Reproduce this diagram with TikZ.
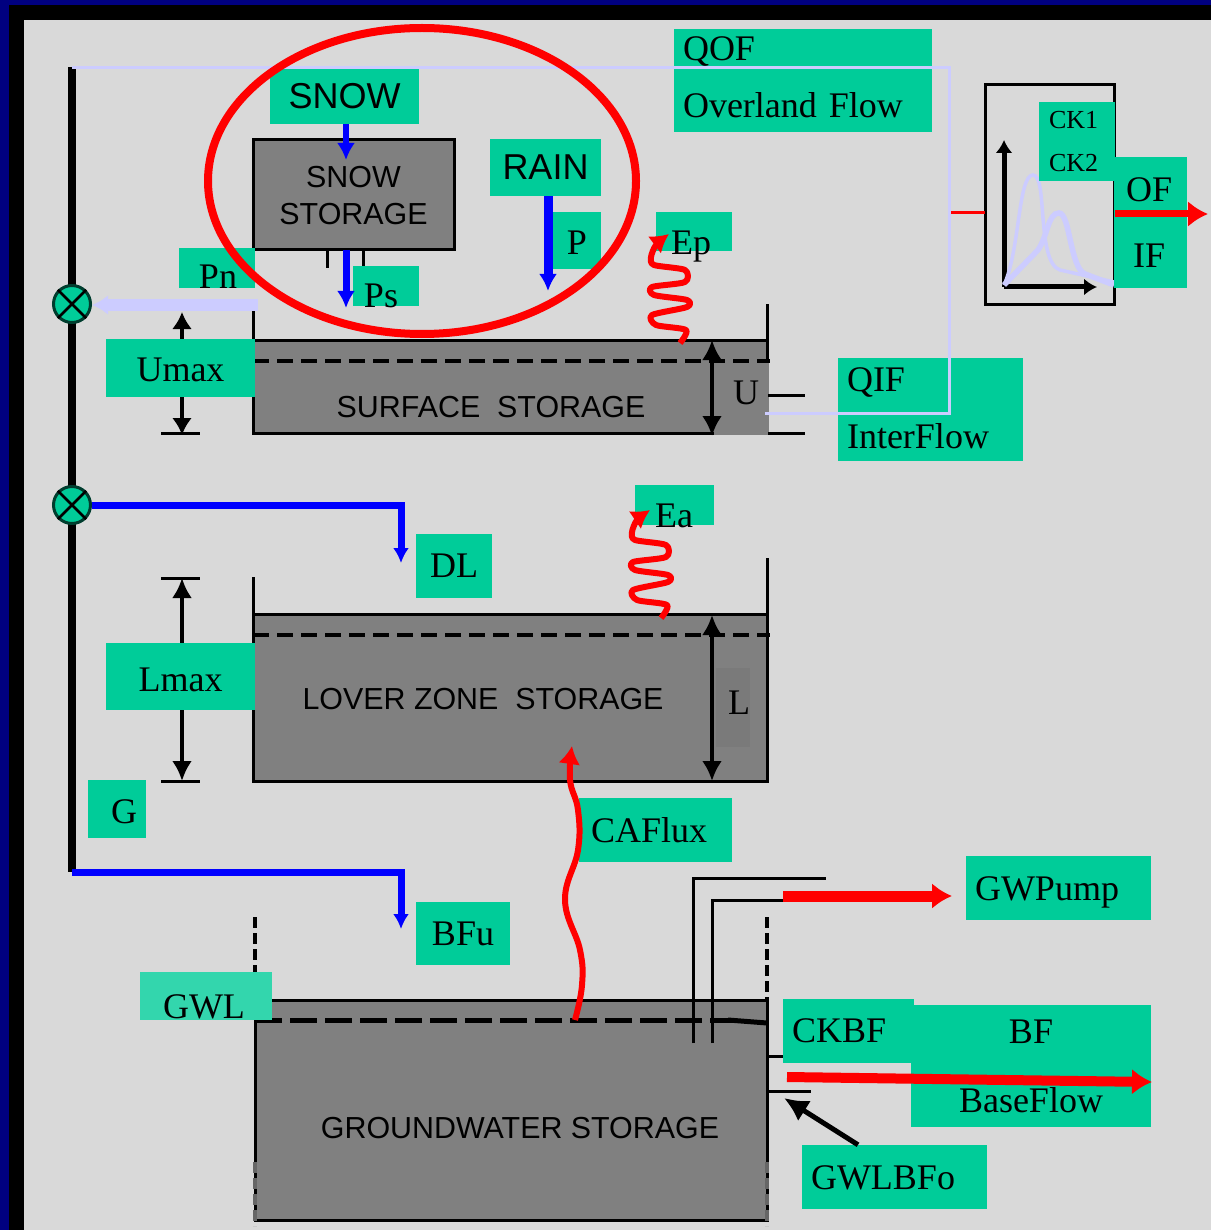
\documentclass[tikz,border=0pt]{standalone}
\usepackage{fontspec}
\usepackage{tikz}
\usepackage{xcolor}
\usetikzlibrary{arrows.meta}
\setmainfont{Liberation Serif}
\setsansfont{Liberation Sans}
\definecolor{panelgray}{HTML}{D9D9D9}
\definecolor{storegray}{HTML}{808080}
\definecolor{labelgreen}{HTML}{00CC99}
\definecolor{flowlight}{HTML}{CCCCFF}
\definecolor{framenavy}{HTML}{000080}
\begin{document}
\begin{tikzpicture}[x=1pt,y=-1pt,
    lbl/.style={fill=labelgreen,inner sep=0pt,font={\fontsize{36}{57}\selectfont}},
    sanslbl/.style={lbl,font={\fontsize{36}{44}\selectfont\sffamily}},
    txt/.style={inner sep=0pt,font={\fontsize{36}{57}\selectfont}},
    store/.style={draw=black,fill=storegray,line width=3pt,inner sep=0pt,outer sep=0pt},
    storetxt/.style={inner sep=0pt,align=center,font={\fontsize{30.4}{37}\selectfont\sffamily}},
    sumnode/.style={circle,draw=black!70!labelgreen,fill=labelgreen,line width=3pt,minimum size=37pt,inner sep=0pt},
    wall/.style={line width=3pt},
    tick/.style={line width=3pt},
    level/.style={line width=4pt,dash pattern=on 16pt off 8pt},
    dashwall/.style={line width=4.5pt,dash pattern=on 11pt off 5pt},
    blackarrow/.style={line width=4pt,{Latex[length=20pt,width=20pt]}-{Latex[length=20pt,width=20pt]}},
    bluearrow/.style={blue,line width=#1,-{Latex[length=17pt,width=18pt]}},
    redarrow/.style={red,line width=#1,-{Latex[length=20pt,width=26pt]}},
    wavearrow/.style={red,line width=6pt,-{Latex[length=18pt,width=22pt]},line join=round},
  ]
  \useasboundingbox (0,0) rectangle (1211,1230);
  % frame
  \fill[framenavy] (0,0) rectangle (1211,1230);
  \fill[black] (9,5) rectangle (1211,1230);
  \fill[panelgray] (24,20) rectangle (1211,1230);

  \coordinate (bustop) at (72,67);
  \coordinate (busend) at (72,872);
  \coordinate (dlcorner) at (401,505);
  \coordinate (dltip) at (401,563);
  \coordinate (bfucorner) at (401,872);
  \coordinate (bfutip) at (401,929);

  % storages
  \node[store,minimum width=514pt,minimum height=93pt] (surface) at (510,386.5) {};
  \draw[wall] (253,311) -- (surface.north west);
  \draw[wall] (767,304) -- (surface.north east);
  \fill[storegray] (760,362) rectangle (769,435);
  \fill[storegray] (714,431) rectangle (769,435);
  \draw[level] (253,361) -- (770,361);
  \node[storetxt] (surfacetxt) at (491,407) {SURFACE\ \ STORAGE};
  \node[store,minimum width=514pt,minimum height=167pt] (lower) at (510,697.5) {};
  \draw[wall] (253,577) -- (lower.north west);
  \draw[wall] (767,558) -- (lower.north east);
  \draw[level] (253,635) -- (770,635);
  \fill[black!5!storegray] (716,668) rectangle (750,747);
  \node[storetxt] (lowertxt) at (483,699) {LOVER ZONE\ \ STORAGE};
  \node[store,minimum width=512pt,minimum height=220pt] (ground) at (511,1110) {};
  \draw[dashwall] (255,917) -- (255,1000);
  \draw[dashwall] (767,917) -- (767,1000);
  \draw[dashwall,black!60] (255,1162) -- (255,1226);
  \draw[dashwall,black!60] (767,1162) -- (767,1226);
  \draw[line width=5pt,dash pattern=on 27pt off 8pt] (255,1020) -- (735,1020);
  \draw[line width=5pt] (728,1020) -- (767,1023);
  \node[storetxt] (groundtxt) at (520,1128) {GROUNDWATER STORAGE};
  \node[store,minimum width=201pt,minimum height=110pt] (snowstore) at (353.5,195) {};
  \node[storetxt] (snowtxt) at (353.5,196) {SNOW\\STORAGE};

  % pipes and outlets
  \draw[tick] (327,250) -- (327,268);
  \draw[tick] (363,250) -- (363,268);
  \draw[tick] (768,395) -- (805,395);
  \draw[tick] (768,433) -- (805,433);
  \draw[wall] (693.5,1043) -- (693.5,878) -- (826,878);
  \draw[wall] (712.5,1043) -- (712.5,900) -- (783,900);
  \draw[tick] (767,1056) -- (811,1056);
  \draw[tick] (767,1091) -- (811,1091);

  % labels
  \node[lbl,minimum width=258pt,minimum height=103pt] (qof) at (803,80.5) {};
  \node[txt,text width=240pt,align=left] (qoftxt) at (803,77.5) {QOF\\Overland Flow};
  \node[lbl,minimum width=185pt,minimum height=103pt] (qif) at (930.5,409.5) {};
  \node[txt,text width=167pt,align=left] (qiftxt) at (930.5,408) {QIF\\InterFlow};
  \node[sanslbl,minimum width=149pt,minimum height=55pt] (snowlbl) at (344.5,96.5) {SNOW};
  \node[sanslbl,minimum width=111pt,minimum height=57pt] (rainlbl) at (545.5,167.5) {RAIN};
  \node[lbl,minimum width=48pt,minimum height=57pt,text height=28pt] (plbl) at (577,240.5) {P};
  \node[lbl,minimum width=76pt,minimum height=40pt] (pnbox) at (217,268) {};
  \node[txt] (pnlbl) at (218,277) {Pn};
  \node[lbl,minimum width=66pt,minimum height=40pt] (psbox) at (386,286) {};
  \node[txt] (pslbl) at (381,296) {Ps};
  \node[lbl,minimum width=149pt,minimum height=58pt,text height=28pt] (umax) at (180.5,368) {Umax};
  \node[lbl,minimum width=149pt,minimum height=67pt,text height=30pt] (lmax) at (180.5,676.5) {Lmax};
  \node[lbl,minimum width=58pt,minimum height=58pt,text height=30pt,text width=40pt,align=center] (glbl) at (117,809) {\hspace*{14pt}G};
  \node[lbl,minimum width=76pt,minimum height=64pt] (dl) at (454,566) {DL};
  \node[lbl,minimum width=94pt,minimum height=63pt] (bfu) at (463,933.5) {BFu};
  \node[lbl,minimum width=153pt,minimum height=64pt,text width=129pt,align=left] (caflux) at (655.5,830) {CAFlux};
  \node[lbl,minimum width=76pt,minimum height=39pt] (epbox) at (694,231.5) {};
  \node[txt] (eplbl) at (691,247) {Ep};
  \node[lbl,minimum width=79pt,minimum height=40pt] (eabox) at (674.5,505) {};
  \node[txt] (ealbl) at (674,516) {Ea};
  \node[lbl,fill=labelgreen!80!white,minimum width=132pt,minimum height=48pt] (gwlbox) at (206,996) {};
  \node[txt] (gwl) at (204,1007) {GWL};
  \node[lbl,minimum width=185pt,minimum height=64pt,text width=167pt,align=left,text height=32pt] (gwpump) at (1058.5,888) {GWPump};
  \node[lbl,minimum width=240pt,minimum height=122pt,align=center] (bf) at (1031,1066) {BF\\[12pt]BaseFlow};
  \node[lbl,minimum width=131pt,minimum height=64pt,text width=113pt,align=left] (ckbf) at (848.5,1031) {CKBF};
  \node[lbl,minimum width=185pt,minimum height=64pt,text width=167pt,align=left,text height=26pt] (gwlbfo) at (894.5,1177) {GWLBFo};

  % hydrograph
  \node[draw=black,line width=3pt,outer sep=0pt,minimum width=129.5pt,minimum height=219pt,inner sep=0pt] (hydro) at (1049.75,194.5) {};
  \draw[red,line width=3pt] (949,213) -- (hydro.west |- 0,213);
  \draw[line width=5pt,-{Latex[length=13pt,width=17pt]}] (1004,287) -- (1004,140);
  \draw[line width=5pt,-{Latex[length=13pt,width=17pt]}] (1004,287) -- (1097,287);
  \draw[flowlight,line width=3.5pt] (1004,285) .. controls (1020,250) and (1018,175) .. (1033,175)
    .. controls (1048,175) and (1036,262) .. (1060,270) -- (1114,282);
  \draw[flowlight,line width=5.5pt] (1004,285) -- (1038,250)
    .. controls (1048,235) and (1048,213) .. (1059,213)
    .. controls (1070,213) and (1070,268) .. (1085,274) -- (1114,285);
  \node[lbl,minimum width=75.5pt,minimum height=79pt,text width=55.5pt,align=left,font={\fontsize{26}{43}\selectfont}] (ck) at (1076.75,141.5) {CK1\\CK2};
  \node[lbl,minimum width=73pt,minimum height=131pt] (ofif) at (1150.5,222.5) {};
  \node[txt] (oflbl) at (1149,190) {OF};
  \node[txt] (iflbl) at (1149,256) {IF};

  % bus and flows
  \draw[line width=8pt] (bustop) -- (busend);
  \node[sumnode] (sumA) at (72,304) {};
  \node[sumnode] (sumB) at (72,505) {};
  \foreach \s in {sumA,sumB} {
    \draw[line width=2.5pt] (\s.45) -- (\s.225);
    \draw[line width=2.5pt] (\s.135) -- (\s.315);
  }
  \draw[flowlight,line width=3pt] (bustop |- 0,68) -- (949,68) -- (949,413) -- (765,413);
  \coordinate (pnstart) at (258,305);
  \draw[flowlight,line width=12pt,-{Latex[length=16pt,width=20pt]}] (pnstart) -- (sumA.east |- pnstart);
  \draw[blue,line width=7pt,-{Latex[length=15pt,width=16pt]}] (sumB.east) -- (dlcorner) -- (dltip);
  \draw[blue,line width=7pt,-{Latex[length=15pt,width=16pt]}] (busend) -- (bfucorner) -- (bfutip);

  \coordinate (snowtip) at (346,160);
  \coordinate (pstip) at (346,308);
  \coordinate (raintip) at (548,291);
  \draw[bluearrow=6pt] (snowtip |- snowlbl.south) -- (snowtip);
  \draw[bluearrow=7pt] (pstip |- snowstore.south) -- (pstip);
  \draw[bluearrow=9pt] (raintip |- rainlbl.south) -- (raintip);

  % level markers
  \coordinate (umaxtop) at (182,312);
  \coordinate (umaxend) at (182,435);
  \coordinate (lmaxtop) at (182,578);
  \coordinate (lmaxend) at (182,781);
  \draw[tick] (161,433) -- (200,433);
  \draw[tick] (161,578) -- (200,578);
  \draw[tick] (161,781) -- (200,781);
  \draw[line width=4pt,-{Latex[length=17pt,width=20pt]}] (umax.north -| umaxtop) -- (umaxtop);
  \draw[line width=4pt,-{Latex[length=17pt,width=20pt]}] (umax.south -| umaxend) -- (umaxend);
  \draw[line width=4pt,-{Latex[length=20pt,width=20pt]}] (lmax.north -| lmaxtop) -- (lmaxtop);
  \draw[line width=4pt,-{Latex[length=20pt,width=20pt]}] (lmax.south -| lmaxend) -- (lmaxend);
  \draw[blackarrow] (712,340) -- (712,436);
  \draw[blackarrow] (712,615) -- (712,781);
  \node[storetxt,font={\fontsize{36}{44}\selectfont}] (ulbl) at (746,393) {U};
  \node[storetxt,font={\fontsize{36}{44}\selectfont}] (llbl) at (739,703) {L};

  % evaporation
  \draw[wavearrow] plot[smooth,tension=0.45] coordinates {(680,343) (686,330) (656,325) (652,315) (687,307) (687,300) (654,295) (652,287) (685,282) (685,270) (654,265) (651,257) (656,245) (669,234)};
  \draw[wavearrow] plot[smooth,tension=0.45] coordinates {(661,618) (667,605) (637,600) (633,590) (668,582) (668,575) (635,570) (633,562) (666,557) (666,545) (635,540) (632,532) (637,520) (650,510)};
  \draw[wavearrow] plot[smooth,tension=0.7] coordinates {(575,1020) (582,985) (580,950) (565,900) (578,850) (578,810) (570,780) (572,746)};

  % outflows
  \coordinate (oftip) at (1208,214);
  \draw[redarrow=7pt] (hydro.east |- oftip) -- (oftip);
  \draw[redarrow=11pt] (783,896) -- (952,896);
  \draw[redarrow=10pt] (787,1077) -- (1152,1082);
  \draw[line width=5pt,-{Latex[length=24pt,width=24pt]}] (gwlbfo.north -| 858,0) -- (784,1098);

  % snow and rain area
  \draw[red,line width=8pt] (422,181) ellipse [x radius=214, y radius=153];
\end{tikzpicture}
\end{document}
